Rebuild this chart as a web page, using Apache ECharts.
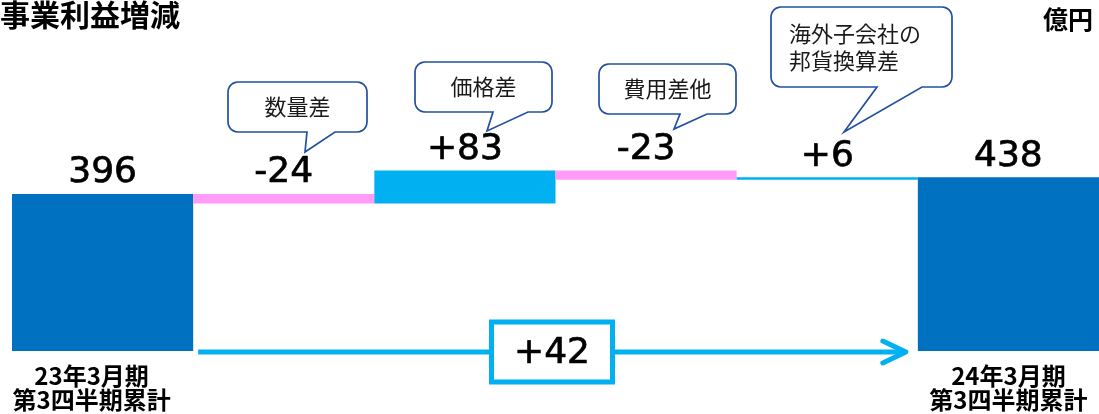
<!DOCTYPE html>
<html><head><meta charset="utf-8">
<script src="https://cdn.jsdelivr.net/npm/echarts@6/dist/echarts.min.js"></script>
<style>html,body{margin:0;padding:0;background:#fff}#c{width:1099px;height:414px}</style>
</head><body><div id="c"></div>
<script>
const periods = ['23年3月期\n第3四半期累計', '24年3月期\n第3四半期累計'];
const factors = ['数量差', '価格差', '費用差他', '海外子会社の\n邦貨換算差'];
const startValue = 396;
const deltas = [-24, 83, -23, 6];
const endValue = 438;
const categories = [periods[0], ...factors, periods[1]];

const C_TOTAL = '#0070C0', C_UP = '#00B0F0', C_DOWN = '#FF9CF7';
let run = startValue;
const base = [0], heights = [startValue], labels = [String(startValue)], colors = [C_TOTAL];
deltas.forEach(d => {
  const next = run + d;
  base.push(Math.min(run, next));
  heights.push(Math.abs(d));
  labels.push((d > 0 ? '+' : '') + d);
  colors.push(d < 0 ? C_DOWN : C_UP);
  run = next;
});
base.push(0); heights.push(endValue); labels.push(String(endValue)); colors.push(C_TOTAL);

const chart = echarts.init(document.getElementById('c'), null, {renderer: 'canvas'});
const CJK = '"Noto Sans CJK JP", sans-serif';
const NUM = '"DejaVu Sans", sans-serif';
const axisLabelFont = {fontSize: 24, fontWeight: 'bold', fontFamily: CJK, color: '#000', lineHeight: 24};
chart.setOption({
  animation: false,
  title: [
    {text: '事業利益増減', left: 0, top: 0, padding: 0,
     textStyle: {fontSize: 30, fontWeight: 'bold', fontFamily: CJK, color: '#000'}},
    {text: '億円', right: 6, top: 7, padding: 0,
     textStyle: {fontSize: 25, fontWeight: 'bold', fontFamily: CJK, color: '#000'}}
  ],
  grid: {left: 12, right: -5, top: 113, bottom: 63},
  xAxis: {
    type: 'category',
    data: categories.map((c, i) => i === 0 ? {value: c, textStyle: {padding: [0, 22, 0, 0]}} : c),
    axisLine: {show: false}, axisTick: {show: false}, splitLine: {show: false},
    axisLabel: Object.assign({
      interval: 0, margin: 13,
      formatter: (v, i) => (i === 0 || i === categories.length - 1) ? v : ''
    }, axisLabelFont)
  },
  yAxis: {type: 'value', min: 0, max: 600, show: false},
  series: [
    {type: 'bar', stack: 'w', data: base, barCategoryGap: '0%',
     itemStyle: {color: 'rgba(0,0,0,0)'}, silent: true},
    {type: 'bar', stack: 'w', barCategoryGap: '0%',
     data: heights.map((h, i) => ({value: h, itemStyle: {color: colors[i]}})),
     label: {show: true, position: 'top', distance: 3,
       formatter: p => labels[p.dataIndex],
       fontSize: 36, fontFamily: NUM, color: '#000',
       textBorderColor: '#000', textBorderWidth: 0.7}}
  ]
});

// annotations anchored to the axes
const px = i => chart.convertToPixel({xAxisIndex: 0}, i);
const band = px(1) - px(0);
const yZero = chart.convertToPixel({yAxisIndex: 0}, 0);
const arrowY = yZero + 1;
const ax1 = px(0) + band / 2 + 5;
const ax2 = px(categories.length - 1) - band / 2 - 12;
const midX = (ax1 + ax2) / 2;
const BUB = '#2350A0';

function arcPts(cx, cy, r, a0, a1) {
  const pts = [];
  for (let k = 0; k <= 6; k++) {
    const a = a0 + (a1 - a0) * k / 6;
    pts.push([cx + r * Math.cos(a), cy + r * Math.sin(a)]);
  }
  return pts;
}
function bubble(x, y, w, h, bl, br, tx, ty, text, align, textX) {
  const r = 10, P = Math.PI;
  const pts = [
    ...arcPts(x + r, y + r, r, P, 1.5 * P),
    ...arcPts(x + w - r, y + r, r, 1.5 * P, 2 * P),
    ...arcPts(x + w - r, y + h - r, r, 0, 0.5 * P),
    [br, y + h], [tx, ty], [bl, y + h],
    ...arcPts(x + r, y + h - r, r, 0.5 * P, P)
  ];
  return [
    {type: 'polygon', shape: {points: pts},
     style: {fill: '#fff', stroke: BUB, lineWidth: 1.7, lineJoin: 'miter'}, z: 10},
    {type: 'text', z: 13,
     style: {text, x: textX !== undefined ? textX : x + w / 2, y: y + h / 2,
       align: align || 'center', verticalAlign: 'middle',
       fontSize: 22, lineHeight: 27, fontFamily: CJK, fill: '#1a1a1a'}}
  ];
}

const els = [
  {type: 'line', shape: {x1: ax1, y1: arrowY, x2: ax2 - 3, y2: arrowY},
   style: {stroke: C_UP, lineWidth: 5}, z: 5},
  {type: 'polyline', shape: {points: [[ax2 - 23, arrowY - 11], [ax2, arrowY], [ax2 - 23, arrowY + 11]]},
   style: {stroke: C_UP, lineWidth: 5, lineCap: 'round', lineJoin: 'round', fill: null}, z: 5},
  {type: 'rect', shape: {x: midX - 60.5, y: arrowY - 30, width: 121, height: 60},
   style: {fill: '#fff', stroke: C_UP, lineWidth: 5}, z: 6},
  {type: 'text', z: 7,
   style: {text: '+' + (endValue - startValue), x: midX, y: arrowY + 2, align: 'center', verticalAlign: 'middle',
     fontSize: 36, fontFamily: NUM, fill: '#000', stroke: '#000', lineWidth: 0.7}},
  ...bubble(228, 82, 139, 50, 307, 335, 305, 152, factors[0]),
  ...bubble(415, 62, 137, 50, 493, 528, 487, 131, factors[1]),
  ...bubble(599, 64, 137, 50, 680, 707, 674, 129, factors[2]),
  ...bubble(771, 7, 181, 80, 877, 922, 844, 132, factors[3], 'left', 789)
];
chart.setOption({graphic: {elements: els}});
</script>
</body></html>
